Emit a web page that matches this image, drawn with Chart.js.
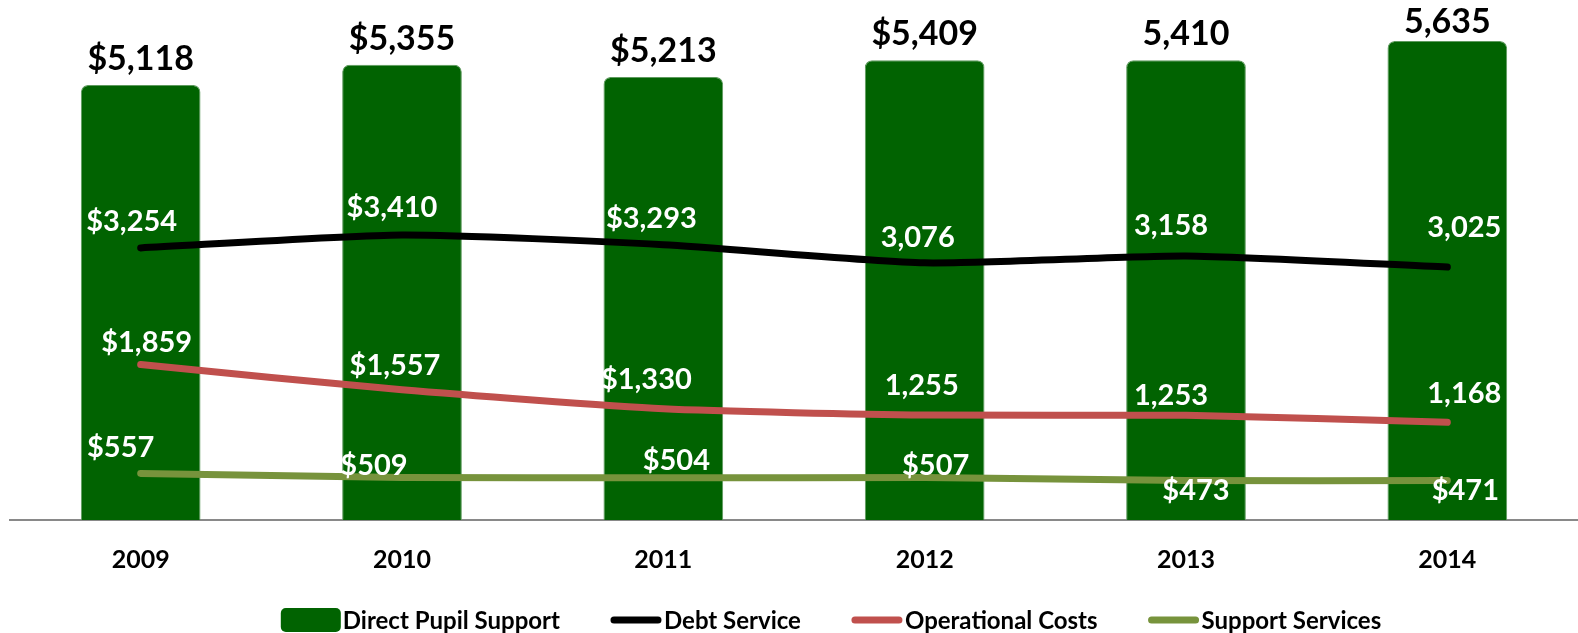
<!DOCTYPE html>
<html>
<head>
<meta charset="utf-8">
<script src="https://cdn.jsdelivr.net/npm/chart.js@4.4.1/dist/chart.umd.min.js"></script>
<style>
  html, body { margin: 0; padding: 0; background: #fff; }
  #wrap { width: 1578px; height: 633px; position: relative; }
</style>
</head>
<body>
<div id="wrap"><canvas id="chart"></canvas></div>
<script>
const years = ['2009', '2010', '2011', '2012', '2013', '2014'];
const directPupil = [5118, 5355, 5213, 5409, 5410, 5635];
const debtService = [3254, 3410, 3293, 3076, 3158, 3025];
const operational = [1859, 1557, 1330, 1255, 1253, 1168];
const supportServices = [557, 509, 504, 507, 473, 471];

// which labels carry a dollar sign in the original
const barPrefix = ['$', '$', '$', '$', '', ''];
const debtPrefix = ['$', '$', '$', '', '', ''];
const opPrefix = ['$', '$', '$', '', '', ''];
const supportPrefix = ['$', '$', '$', '$', '$', '$'];

// label nudges (dx, dy) from each point, as placed in the original
const debtNudge = [[-9, -26], [-10, -27], [-12, -26], [-7, -25], [-15, -30], [17, -39]];
const opNudge = [[6, -22], [-7, -24], [-17, -29], [-3, -29], [-15, -20], [17, -29]];
const supportNudge = [[-20, -26], [-28, -12], [13, -17], [11, -12], [10, 10], [18, 10]];

const FONT = 'Lato, "Open Sans", sans-serif';

function fmt(v, p) {
    return p + v.toLocaleString('en-US');
}

const valueLabels = {
    id: 'valueLabels',
    afterDatasetsDraw(chart) {
        const ctx = chart.ctx;
        ctx.save();
        ctx.textAlign = 'center';
        ctx.textBaseline = 'middle';
        chart.data.datasets.forEach((ds, i) => {
            const meta = chart.getDatasetMeta(i);
            meta.data.forEach((el, j) => {
                const txt = fmt(ds.data[j], ds.prefix[j]);
                if (ds.type === 'bar') {
                    ctx.font = 'bold 34px ' + FONT;
                    ctx.fillStyle = '#000';
                    ctx.fillText(txt, el.x, Math.max(el.y - 26, 22));
                } else {
                    ctx.font = 'bold 29px ' + FONT;
                    ctx.fillStyle = '#fff';
                    ctx.fillText(txt, el.x + ds.nudge[j][0], el.y + ds.nudge[j][1]);
                }
            });
        });
        ctx.restore();
    }
};

// legend drawn by hand so markers sit right against their text
const bottomLegend = {
    id: 'bottomLegend',
    afterDraw(chart) {
        const ctx = chart.ctx;
        const y = 620;
        const gap = 2, spacing = 50;
        ctx.save();
        ctx.font = 'bold 24px ' + FONT;
        ctx.textBaseline = 'middle';
        ctx.textAlign = 'left';
        const items = chart.data.datasets.map(ds => {
            const mw = ds.type === 'bar' ? 60 : 52;
            return { ds: ds, mw: mw, w: mw + gap + ctx.measureText(ds.label).width };
        });
        const total = items.reduce((s, it) => s + it.w, 0) + spacing * (items.length - 1);
        let x = 831 - total / 2;
        items.forEach(it => {
            const ds = it.ds;
            if (ds.type === 'bar') {
                ctx.fillStyle = ds.backgroundColor;
                ctx.beginPath();
                ctx.roundRect(x, y - 12, it.mw, 24, 5);
                ctx.fill();
            } else {
                ctx.strokeStyle = ds.borderColor;
                ctx.lineWidth = 7;
                ctx.lineCap = 'round';
                ctx.beginPath();
                ctx.moveTo(x + 4, y);
                ctx.lineTo(x + it.mw - 4, y);
                ctx.stroke();
            }
            ctx.fillStyle = '#000';
            ctx.fillText(ds.label, x + it.mw + gap, y + 1);
            x += it.w + spacing;
        });
        ctx.restore();
    }
};

function lineSet(label, data, color, prefix, nudge) {
    return {
        type: 'line',
        label: label,
        data: data,
        prefix: prefix,
        nudge: nudge,
        yAxisID: 'y2',
        borderColor: color,
        backgroundColor: color,
        borderWidth: 7,
        borderCapStyle: 'round',
        borderJoinStyle: 'round',
        tension: 0.2,
        pointRadius: 0,
        order: 0
    };
}

new Chart(document.getElementById('chart'), {
    data: {
        labels: years,
        datasets: [
            {
                type: 'bar',
                label: 'Direct Pupil Support',
                data: directPupil,
                prefix: barPrefix,
                yAxisID: 'y',
                backgroundColor: '#016301',
                borderColor: '#5e9a5e',
                borderWidth: 1,
                borderRadius: 7,
                barPercentage: 0.458,
                categoryPercentage: 1,
                order: 1
            },
            lineSet('Debt Service', debtService, '#000000', debtPrefix, debtNudge),
            lineSet('Operational Costs', operational, '#c0504d', opPrefix, opNudge),
            lineSet('Support Services', supportServices, '#77933c', supportPrefix, supportNudge)
        ]
    },
    options: {
        responsive: true,
        maintainAspectRatio: false,
        animation: false,
        layout: { padding: { top: 10, left: 10, right: -4, bottom: 0 } },
        scales: {
            x: {
                grid: { display: false, drawTicks: false },
                border: { display: true, color: '#898989', width: 2 },
                ticks: {
                    color: '#000',
                    padding: 25,
                    font: { family: FONT, size: 25, weight: 'bold' }
                },
                afterFit(scale) { scale.height = 113; }
            },
            y: { display: false, min: 0, max: 6000 },
            y2: { display: false, min: 0, max: 6100 }
        },
        plugins: {
            tooltip: { enabled: false },
            legend: { display: false }
        }
    },
    plugins: [valueLabels, bottomLegend]
});
</script>
</body>
</html>
